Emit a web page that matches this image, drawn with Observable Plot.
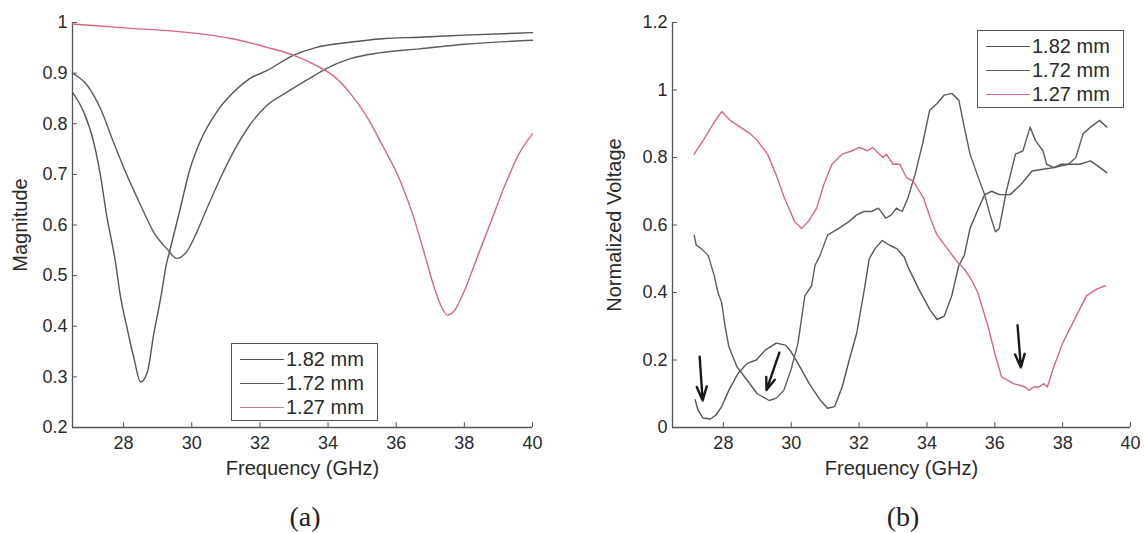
<!DOCTYPE html>
<html><head><meta charset="utf-8">
<script src="https://cdn.jsdelivr.net/npm/d3@7"></script>
<script src="https://cdn.jsdelivr.net/npm/@observablehq/plot@0.6"></script>
<style>
body{margin:0;background:#fff;}
#wrap{position:relative;width:1144px;height:533px;overflow:hidden;font-family:"Liberation Sans",Arial,sans-serif;color:#2a2a2a;}
.panel{position:absolute;top:0;}
.panel text{fill:#2a2a2a;}
.legend{position:absolute;border:1.4px solid #555;background:#fff;box-sizing:border-box;}
.row{position:absolute;left:0;height:24px;display:flex;align-items:center;font-size:20px;white-space:nowrap;}
.sw{display:inline-block;width:44px;height:0;border-top:1.4px solid;margin-left:8px;margin-right:2px;}
.cap{position:absolute;font-family:"Liberation Serif","Times New Roman",serif;font-size:28px;color:#222;transform:translate(-50%,-50%);}
</style></head>
<body>
<div id="wrap"></div>
<script>
// ---------- data ----------
const seriesNames = ["1.82 mm", "1.72 mm", "1.27 mm"];
const seriesColors = ["#555555", "#5c5c5c", "#d9657f"];
const legendColorsA = ["#555555", "#5c5c5c", "#b88090"];
const xDomain = [26.5, 40];
const xTicks = [28, 30, 32, 34, 36, 38, 40];
const yDomainA = [0.2, 1];
const yTicksA = [0.2, 0.3, 0.4, 0.5, 0.6, 0.7, 0.8, 0.9, 1];
const yDomainB = [0, 1.2];
const yTicksB = [0, 0.2, 0.4, 0.6, 0.8, 1, 1.2];

// (a) Magnitude
const freqA182 = [26.5,26.83,27.12,27.32,27.5,27.76,27.9,28.1,28.3,28.5,28.7,28.88,29.07,29.27,29.37,29.66,29.95,30.24,30.73,31.22,31.7,32.2,32.98,33.66,34.63,35.6,36.68,38.0,40.0];
const magA182  = [0.862,0.823,0.764,0.698,0.62,0.527,0.462,0.397,0.338,0.29,0.31,0.383,0.449,0.527,0.553,0.632,0.711,0.764,0.823,0.862,0.889,0.905,0.935,0.951,0.961,0.968,0.971,0.975,0.98];
const freqA172 = [26.5,26.93,27.32,27.7,28.1,28.5,28.88,29.27,29.56,29.85,30.15,30.44,30.83,31.22,31.7,32.2,32.78,33.37,33.95,34.63,35.5,36.68,38.0,40.0];
const magA172  = [0.9,0.876,0.83,0.764,0.698,0.639,0.586,0.553,0.534,0.547,0.586,0.632,0.691,0.744,0.797,0.836,0.862,0.886,0.909,0.928,0.94,0.948,0.957,0.965];
const freqA127 = [26.5,27.3,28.3,29.3,30.2,31.2,32.2,33.0,33.66,34.15,34.63,35.12,35.6,36.1,36.49,36.8,37.1,37.35,37.5,37.7,38.0,38.4,38.8,39.2,39.6,40.0];
const magA127  = [0.997,0.993,0.988,0.984,0.978,0.968,0.951,0.935,0.915,0.895,0.862,0.816,0.757,0.69,0.62,0.55,0.48,0.435,0.422,0.43,0.47,0.54,0.61,0.68,0.74,0.78];

// (b) Normalized voltage
const freqB182 = [27.17,27.25,27.4,27.62,27.78,27.95,28.16,28.43,28.7,28.97,29.24,29.56,29.83,29.99,30.2,30.53,30.85,31.07,31.28,31.5,31.71,31.93,32.14,32.3,32.47,32.68,32.9,33.11,33.33,33.44,33.76,34.08,34.3,34.51,34.73,34.94,35.1,35.27,35.48,35.7,35.91,36.13,36.45,36.77,37.1,37.42,37.74,37.96,38.28,38.5,38.82,39.03,39.3];
const voltB182 = [0.082,0.052,0.028,0.025,0.037,0.062,0.11,0.16,0.19,0.2,0.23,0.25,0.244,0.225,0.19,0.13,0.082,0.057,0.062,0.12,0.2,0.28,0.4,0.5,0.53,0.554,0.54,0.53,0.505,0.476,0.41,0.35,0.32,0.33,0.39,0.48,0.51,0.59,0.64,0.69,0.7,0.69,0.69,0.72,0.76,0.765,0.77,0.78,0.78,0.78,0.79,0.775,0.755];
const freqB172 = [27.14,27.2,27.35,27.55,27.73,27.84,27.95,28.05,28.16,28.4,28.7,29.0,29.35,29.56,29.78,29.99,30.2,30.4,30.6,30.7,30.85,31.07,31.4,31.7,31.93,32.14,32.36,32.57,32.79,32.95,33.1,33.27,33.44,33.65,33.87,34.08,34.3,34.51,34.73,34.94,35.1,35.27,35.48,35.7,35.86,36.02,36.13,36.34,36.61,36.83,37.04,37.2,37.42,37.53,37.74,38.17,38.39,38.6,38.82,39.09,39.3];
const voltB172 = [0.57,0.54,0.53,0.51,0.45,0.4,0.37,0.3,0.24,0.18,0.14,0.1,0.08,0.087,0.11,0.17,0.25,0.39,0.42,0.48,0.51,0.57,0.59,0.61,0.63,0.64,0.64,0.65,0.62,0.63,0.65,0.64,0.68,0.75,0.84,0.94,0.96,0.985,0.99,0.97,0.89,0.81,0.75,0.69,0.63,0.58,0.59,0.7,0.81,0.82,0.89,0.85,0.82,0.78,0.77,0.78,0.8,0.87,0.89,0.91,0.89];
const freqB127 = [27.14,27.4,27.7,27.95,28.2,28.5,28.8,29.0,29.3,29.55,29.8,30.1,30.3,30.5,30.75,30.96,31.2,31.5,31.8,32.0,32.25,32.4,32.7,32.8,33.0,33.2,33.4,33.6,33.9,34.1,34.3,34.6,34.9,35.1,35.3,35.5,35.8,36.0,36.2,36.55,36.9,37.0,37.15,37.3,37.45,37.55,37.74,38.0,38.3,38.5,38.7,39.0,39.25];
const voltB127 = [0.81,0.85,0.9,0.936,0.91,0.89,0.87,0.85,0.81,0.75,0.68,0.61,0.59,0.61,0.65,0.72,0.78,0.81,0.82,0.83,0.82,0.83,0.8,0.81,0.78,0.78,0.74,0.73,0.68,0.62,0.57,0.53,0.49,0.47,0.44,0.4,0.3,0.22,0.15,0.13,0.12,0.11,0.12,0.12,0.13,0.12,0.18,0.25,0.31,0.35,0.39,0.41,0.42];

// arrows in (b): start and tip
const arrowFreq1 = [27.3, 29.65, 36.67];
const arrowVolt1 = [0.21, 0.222, 0.303];
const arrowFreq2 = [27.39, 29.27, 36.77];
const arrowVolt2 = [0.08, 0.111, 0.178];

// ---------- build ----------
const toRows = (fs, vs) => fs.map((f, i) => ({f, v: vs[i]}));
const seriesA = [toRows(freqA182, magA182), toRows(freqA172, magA172), toRows(freqA127, magA127)];
const seriesB = [toRows(freqB182, voltB182), toRows(freqB172, voltB172), toRows(freqB127, voltB127)];
const arrows = arrowFreq1.map((x1, i) => ({x1, y1: arrowVolt1[i], x2: arrowFreq2[i], y2: arrowVolt2[i]}));
const fmt = d3.format("~g");

function makePanel({series, curve, yDomain, yTicks, yLabel, marginLeft, marginRight, yLabelOffset, extra = []}) {
  return Plot.plot({
    width: 572, height: 490,
    marginLeft, marginRight, marginTop: 22, marginBottom: 63,
    x: {domain: xDomain},
    y: {domain: yDomain},
    style: {fontFamily: "Liberation Sans, Arial, sans-serif", fontSize: "18px", color: "#2a2a2a", background: "transparent", overflow: "visible"},
    marks: [
      Plot.ruleX([xDomain[0]], {stroke: "#555", strokeWidth: 1.3}),
      Plot.ruleY([yDomain[0]], {stroke: "#555", strokeWidth: 1.3}),
      Plot.axisX(xTicks, {tickSize: -5, tickPadding: 14, stroke: "#555", tickFormat: fmt, label: null}),
      Plot.axisX({label: "Frequency (GHz)", labelAnchor: "center", labelArrow: "none", labelOffset: 47, ticks: [], fontSize: 20}),
      Plot.axisY(yTicks, {tickSize: -5, tickPadding: 10, stroke: "#555", tickFormat: fmt, label: null}),
      Plot.axisY({label: yLabel, labelAnchor: "center", labelArrow: "none", labelOffset: yLabelOffset, ticks: [], fontSize: 20}),
      ...series.map((rows, i) => Plot.line(rows, {x: "f", y: "v", stroke: seriesColors[i], strokeWidth: 1.4, curve})),
      ...extra
    ]
  });
}

const wrap = document.getElementById("wrap");

const pa = makePanel({series: seriesA, curve: "monotone-x", yDomain: yDomainA, yTicks: yTicksA, yLabel: "Magnitude", marginLeft: 72, marginRight: 40, yLabelOffset: 60});
pa.classList.add("panel"); pa.style.left = "0px";
wrap.appendChild(pa);

const pb = makePanel({series: seriesB, curve: "linear", yDomain: yDomainB, yTicks: yTicksB, yLabel: "Normalized Voltage", marginLeft: 100, marginRight: 14, yLabelOffset: 66,
  extra: [Plot.arrow(arrows, {x1: "x1", y1: "y1", x2: "x2", y2: "y2", stroke: "#1a1a1a", strokeWidth: 2.4, headLength: 12, headAngle: 40})]});
pb.classList.add("panel"); pb.style.left = "572px";
wrap.appendChild(pb);

function legend(left, top, colors) {
  const box = document.createElement("div");
  box.className = "legend";
  Object.assign(box.style, {left: left + "px", top: top + "px", width: "147px", height: "78px"});
  seriesNames.forEach((name, i) => {
    const r = document.createElement("div");
    r.className = "row";
    r.style.top = (3 + i * 24) + "px";
    const sw = document.createElement("span");
    sw.className = "sw"; sw.style.borderTopColor = colors[i];
    r.appendChild(sw);
    r.appendChild(document.createTextNode(name));
    box.appendChild(r);
  });
  wrap.appendChild(box);
}
legend(231, 343, legendColorsA);
legend(977, 30, seriesColors);

function caption(text, x, y) {
  const c = document.createElement("div");
  c.className = "cap"; c.textContent = text;
  c.style.left = x + "px"; c.style.top = y + "px";
  wrap.appendChild(c);
}
caption("(a)", 305, 517);
caption("(b)", 903, 517);
</script>
</body></html>
